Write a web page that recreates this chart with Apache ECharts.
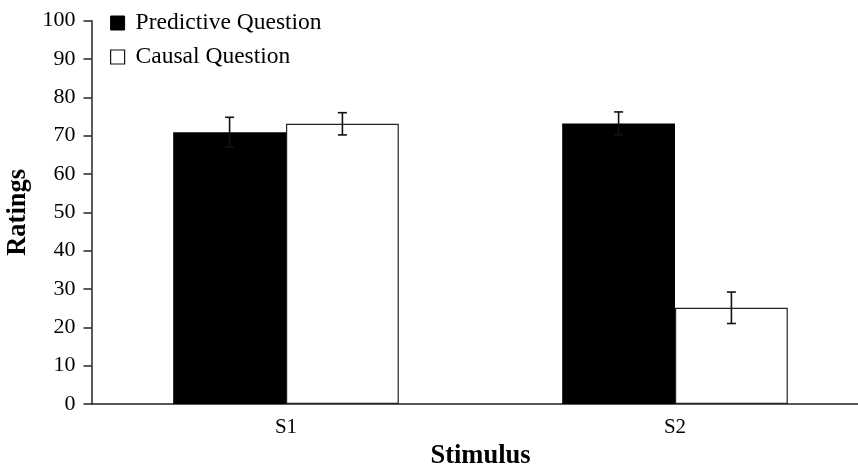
<!DOCTYPE html>
<html>
<head>
<meta charset="utf-8">
<script src="https://cdn.jsdelivr.net/npm/echarts@6/dist/echarts.min.js"></script>
<style>
  html, body { margin: 0; padding: 0; background: #fff; }
  #chart { width: 858px; height: 467px; }
</style>
</head>
<body>
<div id="chart"></div>
<script>
// Mean ratings per stimulus, with error-bar half-widths
const stimuli = ['S1', 'S2'];
const predictive = [70.9, 73.2];
const predictiveErr = [3.9, 3.0];
const causal = [73.1, 25.1];
const causalErr = [2.9, 4.1];
const yTicks = { min: 0, max: 100, interval: 10 };

const FONT = '"Liberation Serif", "Times New Roman", serif';
const BAR_FRACTION = 0.29;   // width of each bar relative to the category band

// Build [categoryIndex, mean, err] triples for the error-bar overlay
function errData(means, errs) {
  return means.map((m, i) => [i, m, errs[i]]);
}

// Draws a capped vertical whisker at the centre of one of the two bars in a group
function makeErrRenderer(side) {
  return function (params, api) {
    const idx = api.value(0);
    const mean = api.value(1);
    const err = api.value(2);
    const band = api.size([1, 0])[0];
    const dx = side * band * BAR_FRACTION / 2;
    const hi = api.coord([idx, mean + err]);
    const lo = api.coord([idx, mean - err]);
    const x = hi[0] + dx;
    const cap = 4.5;
    const style = { stroke: '#111', lineWidth: 1.6 };
    return {
      type: 'group',
      children: [
        { type: 'line', shape: { x1: x, y1: hi[1], x2: x, y2: lo[1] }, style },
        { type: 'line', shape: { x1: x - cap, y1: hi[1], x2: x + cap, y2: hi[1] }, style },
        { type: 'line', shape: { x1: x - cap, y1: lo[1], x2: x + cap, y2: lo[1] }, style }
      ]
    };
  };
}

const chart = echarts.init(document.getElementById('chart'), null, { renderer: 'canvas' });

chart.setOption({
  animation: false,
  backgroundColor: '#fff',
  textStyle: { fontFamily: FONT, color: '#111' },
  grid: {
    left: 91.5,
    right: -11.5,
    top: 20.7,
    bottom: 63,
    containLabel: false,
    outerBoundsMode: 'none'
  },
  legend: {
    orient: 'vertical',
    left: 105,
    top: 6,
    itemWidth: 14,
    itemHeight: 14,
    itemGap: 10,
    icon: 'rect',
    textStyle: { fontFamily: FONT, fontSize: 23.5, color: '#000', padding: [0, 0, 0, 6] },
    data: [
      { name: 'Predictive Question', itemStyle: { color: '#000', borderColor: '#000', borderWidth: 1 } },
      { name: 'Causal Question', itemStyle: { color: '#fff', borderColor: '#111', borderWidth: 1.2 } }
    ]
  },
  xAxis: {
    type: 'category',
    data: stimuli,
    name: 'Stimulus',
    nameLocation: 'middle',
    nameGap: 38,
    nameTextStyle: { fontFamily: FONT, fontSize: 26.5, fontWeight: 'bold', color: '#000' },
    axisLine: { lineStyle: { color: '#222', width: 1.5 } },
    axisTick: { show: false },
    axisLabel: { fontFamily: FONT, fontSize: 21, color: '#000', margin: 13 },
    splitLine: { show: false }
  },
  yAxis: {
    type: 'value',
    min: yTicks.min,
    max: yTicks.max,
    interval: yTicks.interval,
    name: 'Ratings',
    nameLocation: 'middle',
    nameGap: 56,
    nameRotate: 90,
    nameTextStyle: { fontFamily: FONT, fontSize: 26.5, fontWeight: 'bold', color: '#000' },
    axisLine: { show: true, lineStyle: { color: '#222', width: 1.5 } },
    axisTick: { show: true, length: 8, lineStyle: { color: '#222', width: 1.5 } },
    axisLabel: { fontFamily: FONT, fontSize: 22, color: '#000', margin: 16 },
    splitLine: { show: false }
  },
  series: [
    {
      name: 'Predictive Question',
      type: 'bar',
      data: predictive,
      barWidth: (BAR_FRACTION * 100) + '%',
      barGap: '0%',
      itemStyle: { color: '#000', borderColor: '#000', borderWidth: 0 }
    },
    {
      name: 'Causal Question',
      type: 'bar',
      data: causal,
      barWidth: (BAR_FRACTION * 100) + '%',
      barGap: '0%',
      itemStyle: { color: '#fff', borderColor: '#222', borderWidth: 1.2 }
    },
    {
      name: 'Predictive error',
      type: 'custom',
      renderItem: makeErrRenderer(-1),
      data: errData(predictive, predictiveErr),
      z: 10,
      silent: true
    },
    {
      name: 'Causal error',
      type: 'custom',
      renderItem: makeErrRenderer(1),
      data: errData(causal, causalErr),
      z: 10,
      silent: true
    }
  ]
});
</script>
</body>
</html>
